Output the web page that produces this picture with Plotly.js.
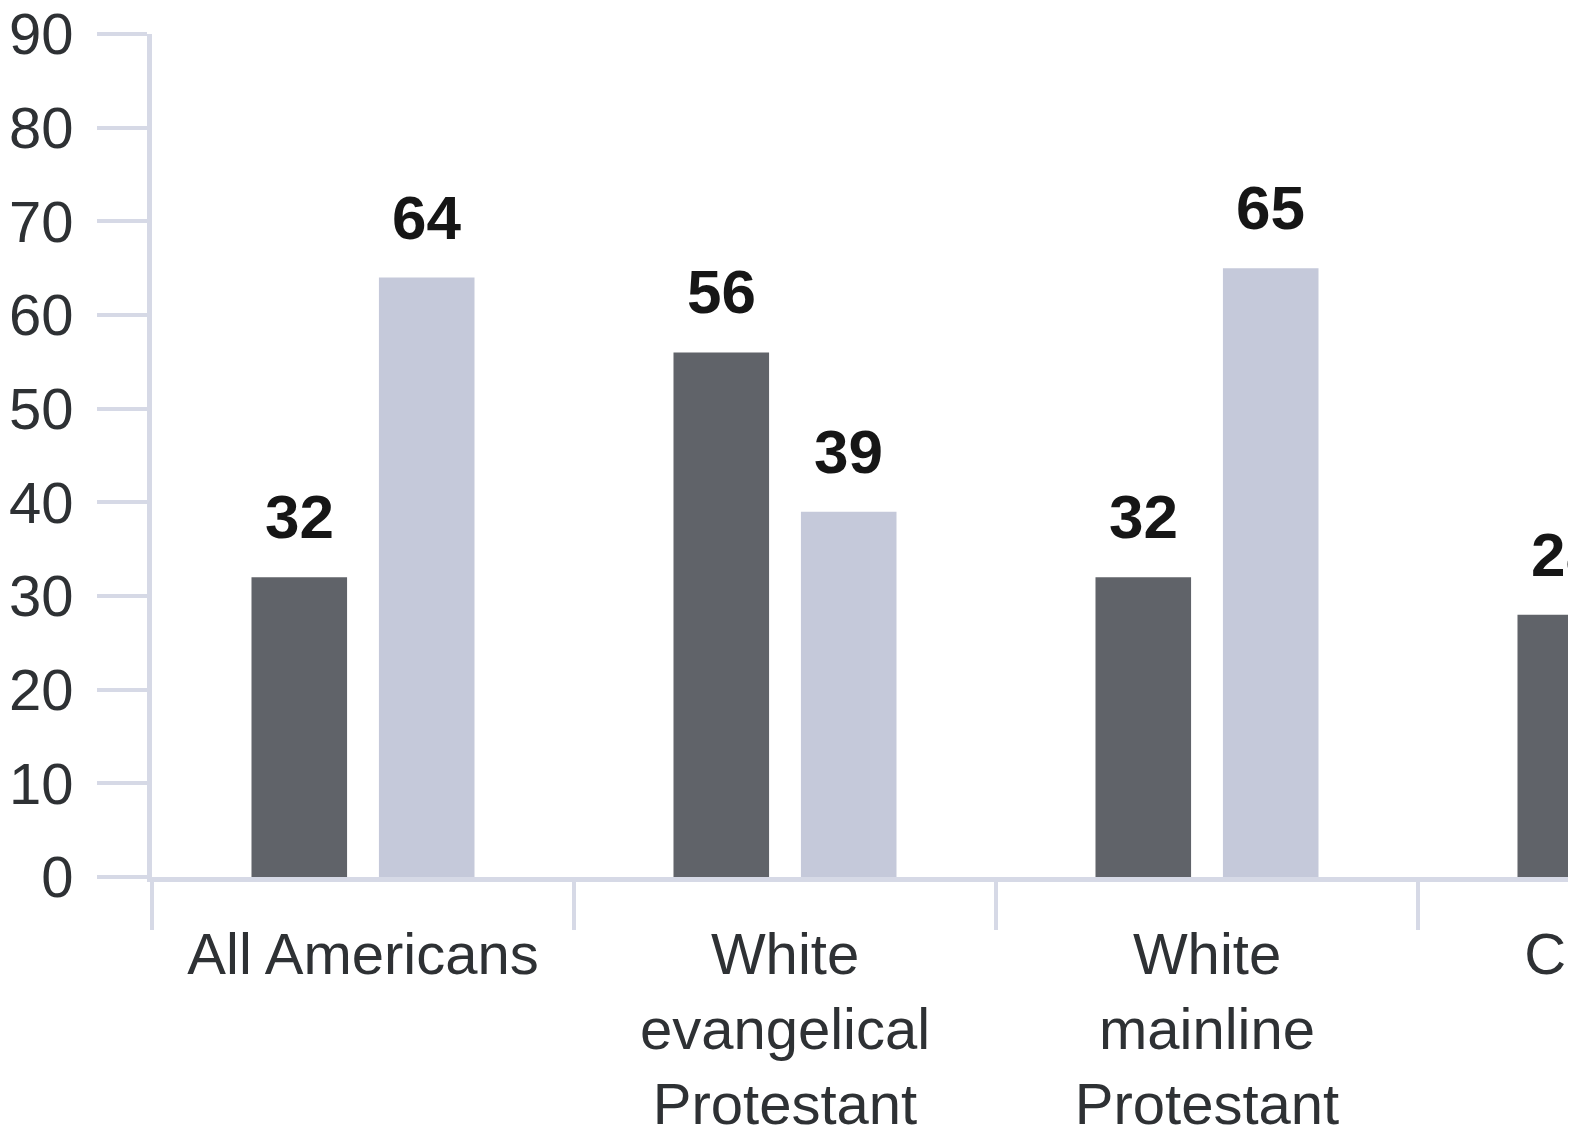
<!DOCTYPE html>
<html>
<head>
<meta charset="utf-8">
<script src="https://cdn.plot.ly/plotly-3.0.1.min.js"></script>
<style>
html, body { margin:0; padding:0; overflow:hidden; background:#fff; }
#wrap { width:1568px; height:1130px; overflow:hidden; position:relative; }
#chart { width:1860px; height:1130px; }
</style>
</head>
<body>
<div id="wrap"><div id="chart"></div></div>
<script>
const categories = ["All Americans", "White<br>evangelical<br>Protestant", "White<br>mainline<br>Protestant", "Catholic"];
const seriesDark = [32, 56, 32, 28];
const seriesLight = [64, 39, 65, null];
const yTickValues = [0, 10, 20, 30, 40, 50, 60, 70, 80, 90];

const darkColor = "#606369";
const lightColor = "#c5c9da";
const axisColor = "#d6d9e6";
const bargap = 0.396;

const traces = [
  { type: "bar", x: categories, y: seriesDark, marker: { color: darkColor }, hoverinfo: "none" },
  { type: "bar", x: categories, y: seriesLight, marker: { color: lightColor }, hoverinfo: "none" }
];

const slot = (1 - bargap) / 2;
const annotations = [];
[seriesDark, seriesLight].forEach((vals, s) => {
  vals.forEach((v, i) => {
    if (v === null) return;
    annotations.push({
      x: i + (s === 0 ? -slot / 2 : slot / 2), y: v, xref: "x", yref: "y",
      text: "<b>" + v + "</b>", showarrow: false, yanchor: "bottom", yshift: 24,
      font: { family: "Liberation Sans, Arial, sans-serif", size: 62, color: "#161616" }
    });
  });
});

const layout = {
  width: 1860, height: 1130,
  margin: { l: 152, r: 20, t: 34, b: 253 },
  paper_bgcolor: "#fff", plot_bgcolor: "#fff",
  barmode: "group", bargap: bargap, bargroupgap: 0.25,
  showlegend: false,
  font: { family: "Liberation Sans, Arial, sans-serif", color: "#2e3134" },
  xaxis: {
    type: "category", range: [-0.5, 3.5],
    showline: true, linecolor: axisColor, linewidth: 5,
    ticks: "outside", tickson: "boundaries", ticklen: 48, tickwidth: 4, tickcolor: axisColor,
    ticklabelstandoff: 22,
    showgrid: false, zeroline: false,
    tickfont: { size: 58, color: "#2e3134" }
  },
  yaxis: {
    range: [0, 90], tickvals: yTickValues, ticktext: yTickValues.map(String),
    showline: true, linecolor: axisColor, linewidth: 5,
    ticks: "outside", ticklen: 50, tickwidth: 4, tickcolor: axisColor,
    ticklabelstandoff: 12,
    showgrid: false, zeroline: false,
    tickfont: { size: 58, color: "#2e3134" }
  },
  annotations: annotations
};

Plotly.newPlot("chart", traces, layout, { displayModeBar: false, staticPlot: true });
</script>
</body>
</html>
